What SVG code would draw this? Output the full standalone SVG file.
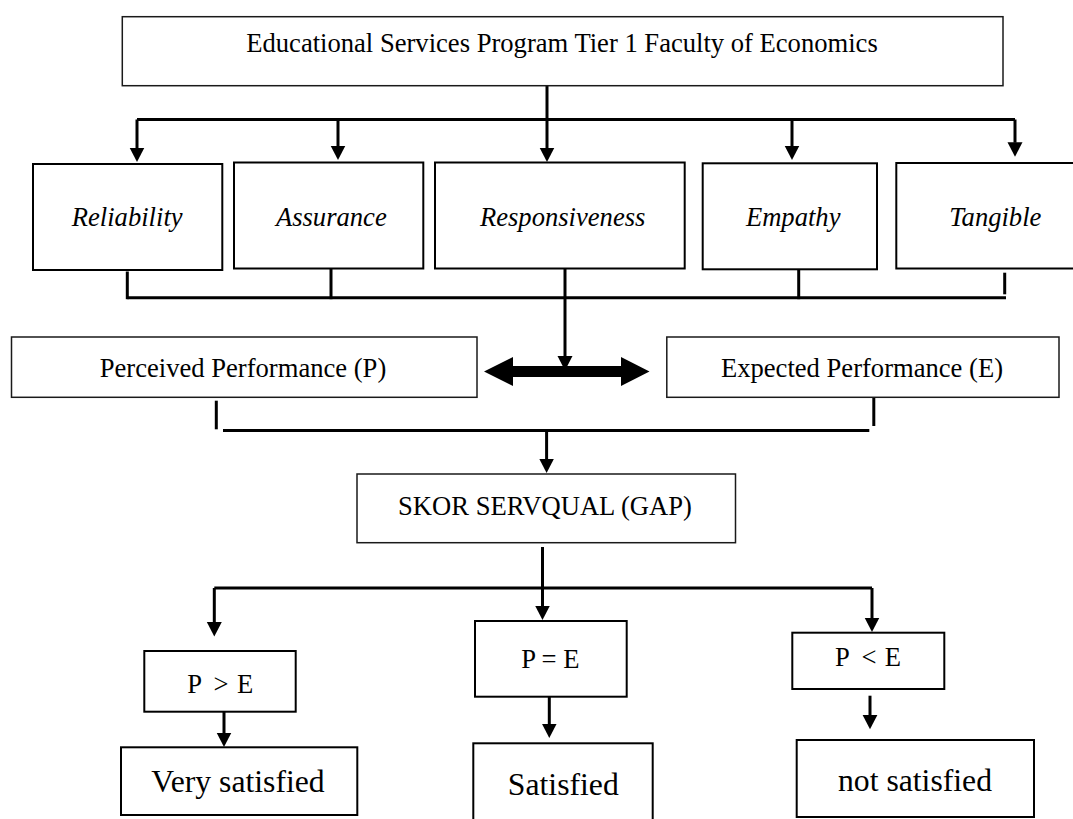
<svg xmlns="http://www.w3.org/2000/svg" width="1073" height="819" viewBox="0 0 1073 819">
<style>
  .box { fill: #fff; stroke: #000; stroke-width: 2; }
  .thin { fill: #fff; stroke: #1a1a1a; stroke-width: 1.5; }
  .t { font-family: "Liberation Serif", "Times New Roman", serif; font-size: 26.6px; fill: #000; }
  .it { font-style: italic; }
  .big { font-size: 31.7px; }
  .ln { fill: none; stroke: #000; stroke-width: 3; }
</style>
<defs>
  <marker id="ah" markerUnits="userSpaceOnUse" markerWidth="15" markerHeight="16" viewBox="0 0 15 16" refX="0.5" refY="8" orient="auto">
    <path d="M0,0.5 L14.5,8 L0,15.5 z" fill="#000"/>
  </marker>
</defs>
<rect width="1073" height="819" fill="#fff"/>

<g id="connectors">
  <path class="ln" d="M547,86 V148" stroke-width="4" marker-end="url(#ah)"/>
  <path class="ln" d="M137,119.5 H1015"/>
  <path class="ln" d="M137,119.5 V148" marker-end="url(#ah)"/>
  <path class="ln" d="M338,119.5 V146" marker-end="url(#ah)"/>
  <path class="ln" d="M792,119.5 V146" marker-end="url(#ah)"/>
  <path class="ln" d="M1015,119.5 V142.7" marker-end="url(#ah)"/>

  <path class="ln" d="M127.3,271.5 V299.2" stroke-width="3.5"/>
  <path class="ln" d="M331,268.5 V299.2" stroke-width="3.5"/>
  <path class="ln" d="M798.7,269.5 V299.2" stroke-width="3.5"/>
  <path class="ln" d="M1004.7,272.7 V294.3" stroke-width="3.5"/>
  <path class="ln" d="M127.3,297.7 H1006"/>
  <path class="ln" d="M565,268.5 V356.5" stroke-width="2" marker-end="url(#ah)"/>

  <polygon points="484,371.5 513,357 513,366 621,366 621,357 649.5,371.5 621,386 621,377 513,377 513,386" fill="#000"/>

  <path class="ln" d="M216.3,400.7 V429.3" stroke-width="3"/>
  <path class="ln" d="M873.8,397.3 V426" stroke-width="3"/>
  <path class="ln" d="M223,430.5 H869.3" stroke-width="4"/>
  <path class="ln" d="M546.6,430 V459" stroke-width="2.5" marker-end="url(#ah)"/>

  <path class="ln" d="M542.5,547 V606" stroke-width="3.5" marker-end="url(#ah)"/>
  <path class="ln" d="M214.3,588 H872"/>
  <path class="ln" d="M214.3,588 V622.5" marker-end="url(#ah)"/>
  <path class="ln" d="M872,588 V618" marker-end="url(#ah)"/>

  <path class="ln" d="M224,711.7 V733" marker-end="url(#ah)"/>
  <path class="ln" d="M549.3,696.7 V724" marker-end="url(#ah)"/>
  <path class="ln" d="M870,695.7 V715.3" marker-end="url(#ah)"/>
</g>

<g id="program">
  <rect class="thin" x="122.3" y="16.7" width="880.7" height="69"/>
  <text class="t" x="562" y="51.7" text-anchor="middle">Educational Services Program Tier 1 Faculty of Economics</text>
</g>

<g id="reliability">
  <rect class="box" x="33" y="164" width="189.3" height="106"/>
  <text class="t it" x="127.2" y="226" text-anchor="middle">Reliability</text>
</g>
<g id="assurance">
  <rect class="box" x="234" y="162.5" width="189.3" height="106"/>
  <text class="t it" x="331.3" y="226" text-anchor="middle">Assurance</text>
</g>
<g id="responsiveness">
  <rect class="box" x="435" y="162.5" width="249.7" height="106"/>
  <text class="t it" x="562.7" y="226" text-anchor="middle">Responsiveness</text>
</g>
<g id="empathy">
  <rect class="box" x="702.7" y="163.3" width="174.3" height="106"/>
  <text class="t it" x="793.2" y="226" text-anchor="middle">Empathy</text>
</g>
<g id="tangible">
  <rect class="box" x="896.3" y="163" width="200" height="105.5"/>
  <text class="t it" x="995.3" y="226" text-anchor="middle">Tangible</text>
</g>

<g id="perceived">
  <rect class="thin" x="11.5" y="337" width="465.5" height="60.3"/>
  <text class="t" x="243" y="377.3" text-anchor="middle">Perceived Performance (P)</text>
</g>
<g id="expected">
  <rect class="thin" x="666.8" y="337" width="392.2" height="60.3"/>
  <text class="t" x="862" y="377.3" text-anchor="middle">Expected Performance (E)</text>
</g>

<g id="servqual">
  <rect class="thin" x="357" y="474" width="378.5" height="68.7"/>
  <text class="t" x="545" y="515" text-anchor="middle">SKOR SERVQUAL (GAP)</text>
</g>

<g id="p-gt-e">
  <rect class="box" x="144.3" y="651" width="151.4" height="60.7"/>
  <text class="t" y="693.3"><tspan x="187.3">P</tspan><tspan x="213.5">&gt;</tspan><tspan x="237">E</tspan></text>
</g>
<g id="p-eq-e">
  <rect class="box" x="475" y="621" width="151.7" height="75.7"/>
  <text class="t" x="550.3" y="668" text-anchor="middle">P = E</text>
</g>
<g id="p-lt-e">
  <rect class="box" x="792.3" y="632.7" width="152" height="56.3"/>
  <text class="t" y="666"><tspan x="835">P</tspan><tspan x="861.5">&lt;</tspan><tspan x="884.7">E</tspan></text>
</g>

<g id="very-satisfied">
  <rect class="box" x="121" y="747.3" width="236.3" height="67.7"/>
  <text class="t big" x="238" y="791.7" text-anchor="middle">Very satisfied</text>
</g>
<g id="satisfied">
  <rect class="box" x="473.3" y="743.3" width="179.4" height="90"/>
  <text class="t big" x="563.3" y="795" text-anchor="middle">Satisfied</text>
</g>
<g id="not-satisfied">
  <rect class="box" x="796.7" y="740" width="237.3" height="77"/>
  <text class="t big" x="915" y="790.7" text-anchor="middle">not satisfied</text>
</g>
</svg>
